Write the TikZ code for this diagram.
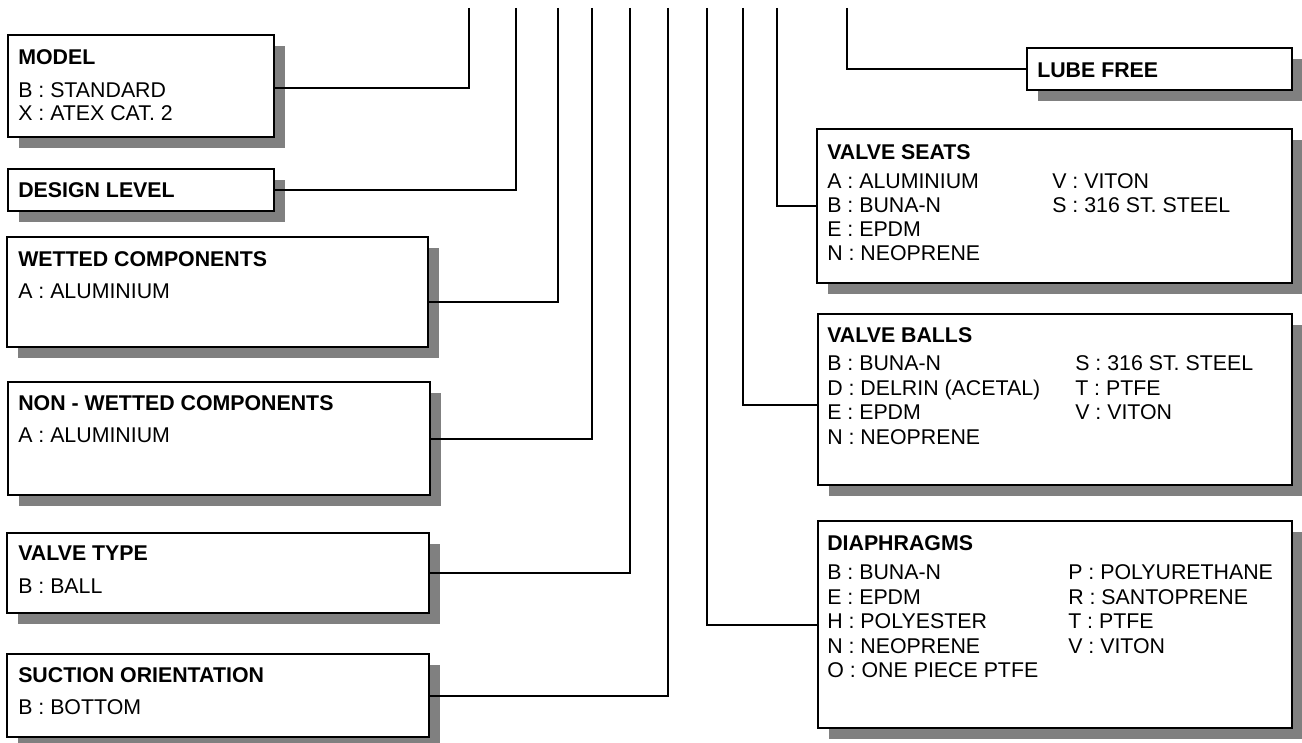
\documentclass[tikz,border=0pt]{standalone}
\usepackage{fontspec}
\setmainfont{Liberation Sans}
\usetikzlibrary{fit, shadows}

\tikzset{
  optbox/.style={draw, line width=2pt, fill=white, inner sep=0pt,
    drop shadow={shadow xshift=8.25pt, shadow yshift=-8.25pt, fill=black!50, opacity=1}},
  head/.style={anchor=west, inner sep=0pt, text height=11.4pt, text depth=0pt, font=\fontsize{16}{18}\selectfont\bfseries},
  item/.style={anchor=west, inner sep=0pt, text height=11.4pt, text depth=0pt, font=\fontsize{16}{18}\selectfont},
  link/.style={line width=1.5pt}
}

\begin{document}
\begin{tikzpicture}[x=0.75pt, y=-0.75pt]
  \useasboundingbox (0,0) rectangle (1302,742);

  % left column of boxes
  \node[optbox, fit={(8,35) (274,137)}] (model) {};
  \node[head] (model-t) at (18,57) {MODEL};
  \node[item] (model-b) at (18,90) {B : STANDARD};
  \node[item] (model-x) at (18,113) {X : ATEX CAT. 2};

  \node[optbox, fit={(8,169) (274,211)}] (design) {};
  \node[head] (design-t) at (18,190) {DESIGN LEVEL};

  \node[optbox, fit={(7,237) (428,347)}] (wetted) {};
  \node[head] (wetted-t) at (18,259) {WETTED COMPONENTS};
  \node[item] (wetted-a) at (18,291) {A : ALUMINIUM};

  \node[optbox, fit={(8,382) (430,495)}] (nonwet) {};
  \node[head] (nonwet-t) at (18,403) {NON - WETTED COMPONENTS};
  \node[item] (nonwet-a) at (18,435) {A : ALUMINIUM};

  \node[optbox, fit={(7,533) (429,613)}] (vtype) {};
  \node[head] (vtype-t) at (18,553) {VALVE TYPE};
  \node[item] (vtype-b) at (18,586) {B : BALL};

  \node[optbox, fit={(7,654) (429,737)}] (suction) {};
  \node[head] (suction-t) at (18,675) {SUCTION ORIENTATION};
  \node[item] (suction-b) at (18,707) {B : BOTTOM};

  % right column of boxes
  \node[optbox, fit={(1027,48) (1292,90)}] (lube) {};
  \node[head] (lube-t) at (1037,70) {LUBE FREE};

  \node[optbox, fit={(817,129) (1292,283)}] (seats) {};
  \node[head] (seats-t) at (827,152) {VALVE SEATS};
  \foreach \t [count=\i] in {A : ALUMINIUM, B : BUNA-N, E : EPDM, N : NEOPRENE}
    \node[item] (seats-a\i) at (827,{181+24*(\i-1)}) {\t};
  \foreach \t [count=\i] in {V : VITON, S : 316 ST. STEEL}
    \node[item] (seats-b\i) at (1052,{181+24*(\i-1)}) {\t};

  \node[optbox, fit={(818,314) (1292,485)}] (balls) {};
  \node[head] (balls-t) at (827,335) {VALVE BALLS};
  \foreach \t [count=\i] in {B : BUNA-N, D : DELRIN (ACETAL), E : EPDM, N : NEOPRENE}
    \node[item] (balls-a\i) at (827,{363+24.6*(\i-1)}) {\t};
  \foreach \t [count=\i] in {S : 316 ST. STEEL, T : PTFE, V : VITON}
    \node[item] (balls-b\i) at (1075,{363+24.6*(\i-1)}) {\t};

  \node[optbox, fit={(818,521) (1292,728)}] (diaph) {};
  \node[head] (diaph-t) at (827,543) {DIAPHRAGMS};
  \foreach \t [count=\i] in {B : BUNA-N, E : EPDM, H : POLYESTER, N : NEOPRENE, O : ONE PIECE PTFE}
    \node[item] (diaph-a\i) at (827,{572+24.5*(\i-1)}) {\t};
  \foreach \t [count=\i] in {P : POLYURETHANE, R : SANTOPRENE, T : PTFE, V : VITON}
    \node[item] (diaph-b\i) at (1068,{572+24.5*(\i-1)}) {\t};

  % code positions along the top
  \coordinate (c-model) at (469,8);
  \coordinate (c-design) at (516,8);
  \coordinate (c-wetted) at (558,8);
  \coordinate (c-nonwet) at (592,8);
  \coordinate (c-vtype) at (630,8);
  \coordinate (c-suction) at (668,8);
  \coordinate (c-diaph) at (707,8);
  \coordinate (c-balls) at (743,8);
  \coordinate (c-seats) at (777,8);
  \coordinate (c-lube) at (847,8);

  % connectors
  \draw[link] (c-model) |- ([yshift=-1.5pt]model.east);
  \draw[link] (c-design) |- (design.east);
  \draw[link] (c-wetted) |- ([yshift=-7.5pt]wetted.east);
  \draw[link] (c-nonwet) |- (nonwet.east);
  \draw[link] (c-vtype) |- (vtype.east);
  \draw[link] (c-suction) |- (suction.east);
  \draw[link] (c-diaph) |- (diaph.west);
  \draw[link] (c-balls) |- ([yshift=-3.75pt]balls.west);
  \draw[link] (c-seats) |- (seats.west);
  \draw[link] (c-lube) |- (lube.west);

\end{tikzpicture}
\end{document}
